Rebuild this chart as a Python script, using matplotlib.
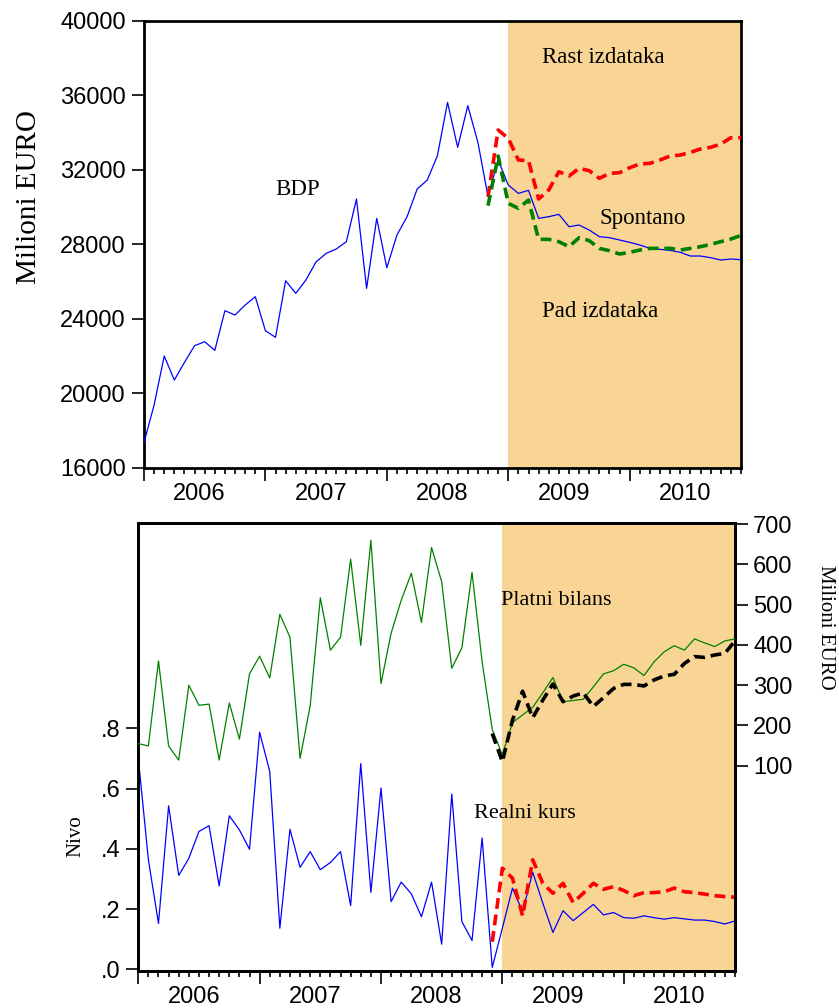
import matplotlib
matplotlib.use("Agg")
import matplotlib.pyplot as plt
from matplotlib.ticker import FixedLocator, NullFormatter

# ---------------- data ----------------
years = ["2006", "2007", "2008", "2009", "2010"]
n_months = 60  # Jan 2006 .. Dec 2010

bdp = [17342, 19365, 21995, 20707, 21655, 22550, 22765, 22300, 24430, 24197, 24734, 25181,
       23356, 22998, 26040, 25360, 26076, 27043, 27508, 27740, 28134, 30425, 25629, 29387,
       26738, 28492, 29477, 30962, 31445, 32752, 35615, 33199, 35436, 33468, 30550, 32519,
       31177, 30729, 30890, 29387, 29477, 29602, 28939, 29029, 28760, 28403, 28349, 28224,
       28098, 27955, 27776, 27723, 27669, 27562, 27365, 27365, 27275, 27150, 27204, 27168]
# scenarios start Nov 2008 (index 34)
rast = [30550, 34130, 33682, 32519, 32483, 30425, 30908, 31892, 31660, 32072, 31946, 31535,
        31803, 31839, 32107, 32304, 32340, 32519, 32734, 32788, 32931, 33110, 33199, 33378,
        33718, 33718]
pad = [30067, 32734, 30192, 29924, 30371, 28260, 28260, 28134, 27866, 28349, 28188, 27776,
       27651, 27472, 27562, 27687, 27776, 27776, 27776, 27687, 27776, 27866, 27991, 28134,
       28277, 28474]
scen_start = 34

kurs = [0.702, 0.364, 0.153, 0.543, 0.312, 0.369, 0.458, 0.477, 0.277, 0.510, 0.463, 0.399,
        0.787, 0.657, 0.137, 0.465, 0.339, 0.391, 0.331, 0.355, 0.391, 0.212, 0.683, 0.256,
        0.602, 0.225, 0.290, 0.251, 0.175, 0.290, 0.084, 0.582, 0.159, 0.096, 0.436, 0.007,
        0.137, 0.270, 0.192, 0.323, 0.220, 0.123, 0.195, 0.162, 0.189, 0.216, 0.181, 0.189,
        0.172, 0.170, 0.178, 0.172, 0.167, 0.172, 0.168, 0.164, 0.164, 0.159, 0.151, 0.161]
# alternative kurs path starts Dec 2008 (index 35)
kurs_alt = [0.092, 0.336, 0.303, 0.178, 0.364, 0.286, 0.253, 0.286, 0.222, 0.253, 0.286, 0.266,
            0.275, 0.262, 0.245, 0.255, 0.255, 0.258, 0.270, 0.258, 0.255, 0.250, 0.245, 0.242,
            0.240]
kurs_alt_start = 35

bilans = [155, 149, 360, 149, 114, 300, 250, 253, 114, 256, 166, 328,
          372, 318, 476, 419, 118, 249, 517, 387, 419, 613, 399, 660,
          304, 429, 511, 578, 456, 642, 557, 342, 393, 580, 358, 190,
          127, 207, 226, 245, 281, 319, 259, 262, 265, 296, 328, 336,
          352, 343, 324, 358, 383, 398, 387, 415, 405, 396, 410, 415]
bilans_alt = [180, 110, 213, 285, 219, 263, 303, 259, 273, 281, 247, 269, 292,
              302, 302, 298, 313, 323, 327, 354, 371, 369, 375, 379, 410]
bilans_alt_start = 35

shade_start = 36  # Jan 2009

# ---------------- style ----------------
SHADE = "#F8D594"
tick_font = "Liberation Sans"
serif = "Liberation Serif"
plt.rcParams["font.family"] = [tick_font, "DejaVu Sans"]

fig = plt.figure(figsize=(8.39, 10.08), dpi=100)

x_all = list(range(n_months))
year_bounds = [0, 12, 24, 36, 48]
year_centers = [5.5, 17.5, 29.5, 41.5, 53.5]


def style_xaxis(ax):
    ax.set_xlim(0, n_months - 1)
    ax.xaxis.set_major_locator(FixedLocator(year_bounds))
    ax.xaxis.set_minor_locator(FixedLocator(list(range(n_months))))
    ax.xaxis.set_major_formatter(NullFormatter())
    ax.tick_params(axis="x", which="major", direction="out", length=9, width=1.2)
    ax.tick_params(axis="x", which="minor", direction="out", length=4, width=1.2)
    sec = ax.secondary_xaxis("bottom")
    sec.set_xticks(year_centers, years)
    sec.tick_params(axis="x", length=0, pad=11, labelsize=17)
    sec.spines["bottom"].set_visible(False)
    for s in ax.spines.values():
        s.set_linewidth(2)


# ---------------- top panel ----------------
ax1 = fig.add_axes([0.1716, 0.536, 0.7116, 0.4435])
ax1.axvspan(shade_start, n_months - 1, color=SHADE, lw=0, zorder=0)
ax1.plot(x_all, bdp, color="#0000FF", lw=0.9, zorder=3)
ax1.plot(range(scen_start, scen_start + len(rast)), rast, color="#FF0000", lw=2.6,
         dashes=(3, 1.6), zorder=4)
ax1.plot(range(scen_start, scen_start + len(pad)), pad, color="#008000", lw=2.6,
         dashes=(3, 1.6), zorder=4)
ax1.set_ylim(16000, 40000)
ax1.set_yticks([16000, 20000, 24000, 28000, 32000, 36000, 40000])
ax1.tick_params(axis="y", direction="out", length=9, width=1.2, labelsize=17, pad=4)
style_xaxis(ax1)
ax1.set_ylabel("Milioni EURO", family=serif, fontsize=21)
ax1.yaxis.set_label_coords(-0.171, 0.606)

ax1.text(15.2, 30910, "BDP", family=serif, fontsize=16.5, ha="center", va="center")
ax1.text(45.4, 38000, "Rast izdataka", family=serif, fontsize=16.5, ha="center", va="center")
ax1.text(49.3, 29400, "Spontano", family=serif, fontsize=16.5, ha="center", va="center")
ax1.text(45.1, 24360, "Pad izdataka", family=serif, fontsize=16.5, ha="center", va="center")

# ---------------- bottom panel ----------------
ax2 = fig.add_axes([0.1648, 0.0367, 0.7112, 0.4441])
ax2.axvspan(shade_start, n_months - 1, color=SHADE, lw=0, zorder=0)
ax2.plot(x_all, kurs, color="#0000FF", lw=0.9, zorder=3)
ax2.plot(range(kurs_alt_start, kurs_alt_start + len(kurs_alt)), kurs_alt, color="#FF0000",
         lw=2.6, dashes=(3, 1.6), zorder=4)
ax2.set_ylim(-0.005, 1.48)
ax2.set_yticks([0, 0.2, 0.4, 0.6, 0.8], [".0", ".2", ".4", ".6", ".8"])
ax2.tick_params(axis="y", direction="out", length=9, width=1.2, labelsize=17, pad=4)
style_xaxis(ax2)
ax2.set_ylabel("Nivo", family=serif, fontsize=15)
ax2.yaxis.set_label_coords(-0.088, 0.302)

ax3 = ax2.twinx()
ax3.plot(x_all, bilans, color="#008000", lw=0.9, zorder=3)
ax3.plot(range(bilans_alt_start, bilans_alt_start + len(bilans_alt)), bilans_alt,
         color="#000000", lw=2.6, dashes=(3, 1.6), zorder=4)
ax3.set_ylim(-410, 702)
ax3.set_yticks([100, 200, 300, 400, 500, 600, 700])
ax3.tick_params(axis="y", direction="out", length=9, width=1.2, labelsize=17, pad=4)
for s in ax3.spines.values():
    s.set_linewidth(2)
ax3.set_ylabel("Milioni EURO", family=serif, fontsize=15, rotation=270)
ax3.yaxis.set_label_coords(1.168, 0.768)

ax3.text(41.3, 511, "Platni bilans", family=serif, fontsize=16, ha="center", va="center")
ax2.text(38.2, 0.517, "Realni kurs", family=serif, fontsize=16, ha="center", va="center",
         zorder=5)

fig.savefig("out.png", dpi=100)
